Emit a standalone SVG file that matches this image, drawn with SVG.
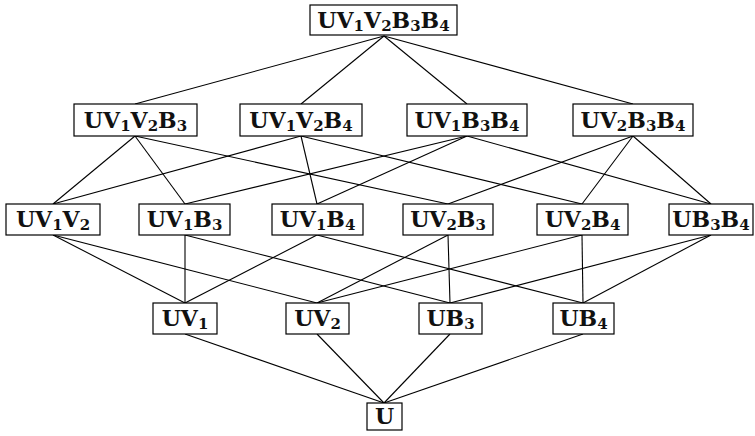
<svg xmlns="http://www.w3.org/2000/svg" width="755" height="436" viewBox="0 0 755 436">
  <style>
    rect.n { fill: #fff; stroke: #000; stroke-width: 1.2; }
    text { font-family: "DejaVu Serif", "Liberation Serif", serif; font-weight: bold; font-size: 22px; text-anchor: middle; fill: #111; }
    tspan.s { font-size: 15px; }
    #edges line { stroke: #000; stroke-width: 1.1; }
  </style>
  <rect width="755" height="436" fill="#fff"/>
  <g id="edges">
    <!-- level 0 to level 1 -->
    <line x1="384" y1="36" x2="135" y2="104"/>
    <line x1="384" y1="36" x2="301" y2="104"/>
    <line x1="384" y1="36" x2="467" y2="104"/>
    <line x1="384" y1="36" x2="633" y2="104"/>
    <!-- level 1 to level 2 -->
    <line x1="135" y1="136" x2="53" y2="204"/>
    <line x1="135" y1="136" x2="185" y2="204"/>
    <line x1="135" y1="136" x2="448" y2="204"/>
    <line x1="301" y1="136" x2="53" y2="204"/>
    <line x1="301" y1="136" x2="317" y2="204"/>
    <line x1="301" y1="136" x2="582" y2="204"/>
    <line x1="467" y1="136" x2="185" y2="204"/>
    <line x1="467" y1="136" x2="317" y2="204"/>
    <line x1="467" y1="136" x2="711" y2="204"/>
    <line x1="633" y1="136" x2="448" y2="204"/>
    <line x1="633" y1="136" x2="582" y2="204"/>
    <line x1="633" y1="136" x2="711" y2="204"/>
    <!-- level 2 to level 3 -->
    <line x1="53" y1="235" x2="185" y2="303"/>
    <line x1="53" y1="235" x2="317" y2="303"/>
    <line x1="185" y1="235" x2="185" y2="303"/>
    <line x1="185" y1="235" x2="450" y2="303"/>
    <line x1="317" y1="235" x2="185" y2="303"/>
    <line x1="317" y1="235" x2="583" y2="303"/>
    <line x1="448" y1="235" x2="317" y2="303"/>
    <line x1="448" y1="235" x2="450" y2="303"/>
    <line x1="582" y1="235" x2="317" y2="303"/>
    <line x1="582" y1="235" x2="583" y2="303"/>
    <line x1="711" y1="235" x2="450" y2="303"/>
    <line x1="711" y1="235" x2="583" y2="303"/>
    <!-- level 3 to level 4 -->
    <line x1="185" y1="334" x2="384" y2="403"/>
    <line x1="317" y1="334" x2="384" y2="403"/>
    <line x1="450" y1="334" x2="384" y2="403"/>
    <line x1="583" y1="334" x2="384" y2="403"/>
  </g>

  <g id="n-UV1V2B3B4">
    <rect class="n" x="310" y="5" width="147" height="30"/>
    <text x="383.5" y="28">UV<tspan class="s" dy="3">1</tspan><tspan dy="-3">V</tspan><tspan class="s" dy="3">2</tspan><tspan dy="-3">B</tspan><tspan class="s" dy="3">3</tspan><tspan dy="-3">B</tspan><tspan class="s" dy="3">4</tspan></text>
  </g>

  <g id="n-UV1V2B3">
    <rect class="n" x="74" y="104" width="123" height="32"/>
    <text x="135.5" y="128">UV<tspan class="s" dy="3">1</tspan><tspan dy="-3">V</tspan><tspan class="s" dy="3">2</tspan><tspan dy="-3">B</tspan><tspan class="s" dy="3">3</tspan></text>
  </g>
  <g id="n-UV1V2B4">
    <rect class="n" x="240" y="104" width="122" height="32"/>
    <text x="301" y="128">UV<tspan class="s" dy="3">1</tspan><tspan dy="-3">V</tspan><tspan class="s" dy="3">2</tspan><tspan dy="-3">B</tspan><tspan class="s" dy="3">4</tspan></text>
  </g>
  <g id="n-UV1B3B4">
    <rect class="n" x="407" y="104" width="120" height="32"/>
    <text x="467" y="128">UV<tspan class="s" dy="3">1</tspan><tspan dy="-3">B</tspan><tspan class="s" dy="3">3</tspan><tspan dy="-3">B</tspan><tspan class="s" dy="3">4</tspan></text>
  </g>
  <g id="n-UV2B3B4">
    <rect class="n" x="573" y="104" width="120" height="32"/>
    <text x="633" y="128">UV<tspan class="s" dy="3">2</tspan><tspan dy="-3">B</tspan><tspan class="s" dy="3">3</tspan><tspan dy="-3">B</tspan><tspan class="s" dy="3">4</tspan></text>
  </g>

  <g id="n-UV1V2">
    <rect class="n" x="6" y="204" width="94" height="31"/>
    <text x="53" y="227">UV<tspan class="s" dy="3">1</tspan><tspan dy="-3">V</tspan><tspan class="s" dy="3">2</tspan></text>
  </g>
  <g id="n-UV1B3">
    <rect class="n" x="139" y="204" width="91" height="31"/>
    <text x="184.5" y="227">UV<tspan class="s" dy="3">1</tspan><tspan dy="-3">B</tspan><tspan class="s" dy="3">3</tspan></text>
  </g>
  <g id="n-UV1B4">
    <rect class="n" x="272" y="204" width="91" height="31"/>
    <text x="317.5" y="227">UV<tspan class="s" dy="3">1</tspan><tspan dy="-3">B</tspan><tspan class="s" dy="3">4</tspan></text>
  </g>
  <g id="n-UV2B3">
    <rect class="n" x="403" y="204" width="90" height="31"/>
    <text x="448" y="227">UV<tspan class="s" dy="3">2</tspan><tspan dy="-3">B</tspan><tspan class="s" dy="3">3</tspan></text>
  </g>
  <g id="n-UV2B4">
    <rect class="n" x="537" y="204" width="91" height="31"/>
    <text x="582.5" y="227">UV<tspan class="s" dy="3">2</tspan><tspan dy="-3">B</tspan><tspan class="s" dy="3">4</tspan></text>
  </g>
  <g id="n-UB3B4">
    <rect class="n" x="669" y="204" width="84" height="31"/>
    <text x="711" y="227">UB<tspan class="s" dy="3">3</tspan><tspan dy="-3">B</tspan><tspan class="s" dy="3">4</tspan></text>
  </g>

  <g id="n-UV1">
    <rect class="n" x="153" y="303" width="64" height="31"/>
    <text x="185" y="326">UV<tspan class="s" dy="3">1</tspan></text>
  </g>
  <g id="n-UV2">
    <rect class="n" x="286" y="303" width="63" height="31"/>
    <text x="317.5" y="326">UV<tspan class="s" dy="3">2</tspan></text>
  </g>
  <g id="n-UB3">
    <rect class="n" x="419" y="303" width="63" height="31"/>
    <text x="450.5" y="326">UB<tspan class="s" dy="3">3</tspan></text>
  </g>
  <g id="n-UB4">
    <rect class="n" x="553" y="303" width="61" height="31"/>
    <text x="583.5" y="326">UB<tspan class="s" dy="3">4</tspan></text>
  </g>

  <g id="n-U">
    <rect class="n" x="367" y="403" width="35" height="27"/>
    <text x="384.5" y="424">U</text>
  </g>
</svg>
